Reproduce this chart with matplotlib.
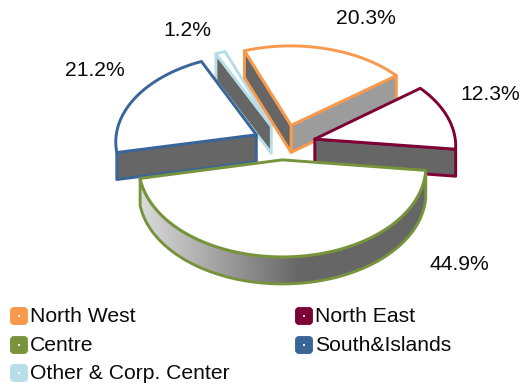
import numpy as np
import matplotlib
matplotlib.use("Agg")
import matplotlib.pyplot as plt
from matplotlib.patches import Polygon, FancyBboxPatch, Rectangle

plt.rcParams['font.family'] = ['Liberation Sans', 'DejaVu Sans']

categories = ["North West", "North East", "Centre", "South&Islands", "Other & Corp. Center"]
shares = [20.3, 12.3, 44.9, 21.2, 1.2]
labels = ["20.3%", "12.3%", "44.9%", "21.2%", "1.2%"]
colors = ["#F9994C", "#7F0035", "#77933C", "#3A6599", "#B7DEE8"]

W = 522
H = 386

# fake 3D view, everything ends up in pixels
x0 = 283
y0 = 143
R = 141
explode = 30
tilt = 0.62
persp = 0.0005
depth = 27
start = -20.7

# small per-slice pixel corrections
nudge_x = [0, 3, -2, 0, 0]
nudge_y = [0, 1, -2, 0, 0]


def project(X, Y, drop=0):
    s = 1 / (1 + persp * Y)
    return x0 + X * s, y0 - tilt * Y * s + drop


def wedge_points(a1, a2):
    mid = np.radians((a1 + a2) / 2)
    ox, oy = explode * np.sin(mid), explode * np.cos(mid)
    t = np.radians(np.linspace(a1, a2, 80))
    return ox, oy, ox + R * np.sin(t), oy + R * np.cos(t)


def side(ax, p, q, color, edge, z):
    pts = [p, q, (q[0], q[1] + depth), (p[0], p[1] + depth)]
    ax.add_patch(Polygon(pts, closed=True, fc=color, ec=edge, lw=2.1, joinstyle="round", zorder=z))


fig = plt.figure(figsize=(W / 100, H / 100), dpi=100)
ax = fig.add_axes([0, 0, 1, 1])
ax.axis("off")

angles = start + np.cumsum([0] + shares) * 3.6
draw_order = [4, 0, 3, 1, 2]

for n, i in enumerate(draw_order):
    z = 2 + n * 2
    ox, oy, X, Y = wedge_points(angles[i], angles[i + 1])
    ax_, ay_ = project(ox, oy)
    apex = (ax_ + nudge_x[i], ay_ + nudge_y[i])
    px, py = project(X, Y)
    px = px + nudge_x[i]
    py = py + nudge_y[i]
    first = (px[0], py[0])
    last = (px[-1], py[-1])
    if i == 0:
        # orange shows both cut faces
        side(ax, apex, last, "#9C9C9C", colors[i], z)
        side(ax, first, apex, "#666666", colors[i], z)
    elif i == 4:
        side(ax, first, apex, "#666666", colors[i], z)
    elif i == 3:
        side(ax, first, apex, "#666666", colors[i], z)
    elif i == 1:
        side(ax, apex, last, "#666666", colors[i], z)
    elif i == 2:
        top = np.column_stack([px, py])
        low = np.column_stack([px, py + depth])[::-1]
        wall = Polygon(np.vstack([top, low]), closed=True, fc="none", ec=colors[i], lw=2.1, zorder=z)
        ax.add_patch(wall)
        grad_x = np.linspace(px.min(), px.max(), 300)
        gray = np.interp(grad_x, [px.min(), 300, px.max()], [0.86, 0.4, 0.4])
        im = ax.imshow(np.dstack([gray, gray, gray]).reshape(1, 300, 3),
                       extent=[px.min(), px.max(), py.max() + depth, py.min()],
                       aspect="auto", zorder=z - 0.5)
        im.set_clip_path(wall)
    outline = np.vstack([[apex], np.column_stack([px, py])])
    ax.add_patch(Polygon(outline, closed=True, fc="white", ec=colors[i], lw=2.1,
                         joinstyle="round", zorder=z + 1))

label_x = [366, 490, 459, 95, 187]
label_y = [19, 94, 264, 71, 30]
for s, lx, ly in zip(labels, label_x, label_y):
    ax.text(lx, ly, s, fontsize=15.2, ha="center", va="center", color="#0A0A0A", zorder=30)

# legend, two columns
leg_x = [10, 295, 10, 295, 10]
leg_y = [316, 316, 345, 345, 373]
for name, c, lx, ly in zip(categories, colors, leg_x, leg_y):
    ax.add_patch(FancyBboxPatch((lx + 2, ly - 7), 14, 14, boxstyle="round,pad=0,rounding_size=2",
                                mutation_aspect=1, fc=c, ec=c, lw=2.8, zorder=20))
    ax.add_patch(Rectangle((lx + 8, ly - 1), 2, 2, fc="white", ec="none", alpha=0.9, zorder=21))
    ax.text(lx + 20, ly + 0.5, name, fontsize=15.2, ha="left", va="center", color="#0A0A0A", zorder=30)

ax.set_xlim(0, W)
ax.set_ylim(H, 0)

fig.savefig("out.png", dpi=100)
